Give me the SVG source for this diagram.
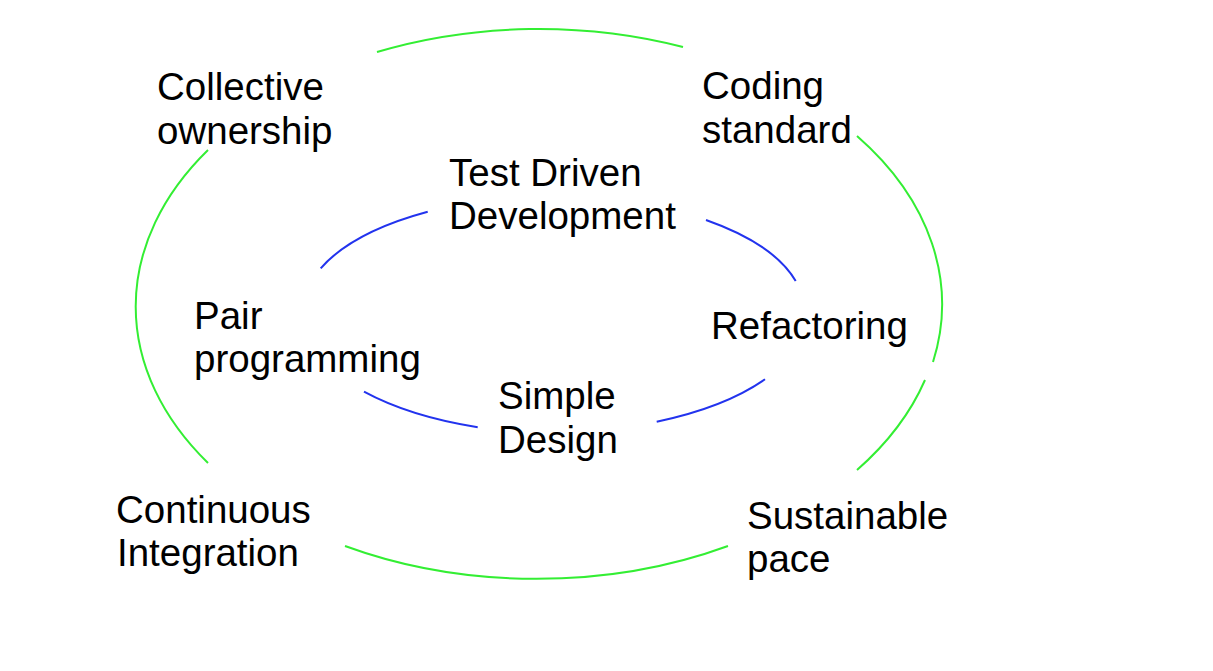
<svg xmlns="http://www.w3.org/2000/svg" width="1213" height="671" viewBox="0 0 1213 671">
<style>
text{font-family:"Liberation Sans",Arial,Helvetica,sans-serif;font-size:38.5px;fill:#000}
.outer{fill:none;stroke:#33ee33;stroke-width:2}
.inner{fill:none;stroke:#2233ee;stroke-width:2}
</style>
<rect width="1213" height="671" fill="#fff"/>
<g id="connectors">
<path class="outer" d="M377,52 A403.5,274 0 0 1 683,47"/>
<path class="outer" d="M857,136 A403.5,274 0 0 1 933,362"/>
<path class="outer" d="M925,380 A403.5,274 0 0 1 857,470"/>
<path class="outer" d="M728,546 A403.5,274 0 0 1 345,546"/>
<path class="outer" d="M208,463 A403.5,274 0 0 1 208,150"/>
<path class="inner" d="M320.7,268.3 A260,115 0 0 1 427.7,211.7"/>
<path class="inner" d="M706,220 A260,115 0 0 1 795.7,281"/>
<path class="inner" d="M765,379.3 A260,115 0 0 1 656.7,421.7"/>
<path class="inner" d="M477.7,427.3 A260,115 0 0 1 364,391.7"/>
</g>
<g id="collective-ownership"><text x="157" y="99.5">Collective</text><text x="157" y="143.5">ownership</text></g>
<g id="coding-standard"><text x="702" y="98.5">Coding</text><text x="702" y="142.5">standard</text></g>
<g id="tdd"><text x="449" y="186">Test Driven</text><text x="449" y="229">Development</text></g>
<g id="pair-programming"><text x="194" y="328.5">Pair</text><text x="194" y="372">programming</text></g>
<g id="refactoring"><text x="711" y="339">Refactoring</text></g>
<g id="simple-design"><text x="498" y="408.5">Simple</text><text x="498" y="452.5">Design</text></g>
<g id="continuous-integration"><text x="116" y="522.5">Continuous</text><text x="117" y="566">Integration</text></g>
<g id="sustainable-pace"><text x="747" y="529">Sustainable</text><text x="747" y="572">pace</text></g>
</svg>
